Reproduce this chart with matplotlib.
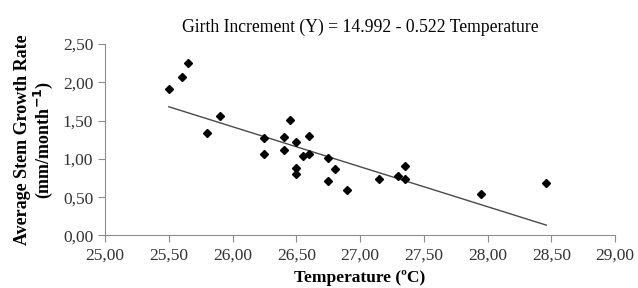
import numpy as np
import matplotlib.pyplot as plt
from matplotlib.ticker import FuncFormatter

# Data
temperature = [25.50, 25.60, 25.65, 25.80, 25.90, 26.25, 26.25, 26.40, 26.40,
               26.45, 26.50, 26.50, 26.50, 26.55, 26.60, 26.60, 26.75, 26.75,
               26.80, 26.90, 27.15, 27.30, 27.35, 27.35, 27.95, 28.46]
growth = [1.91, 2.07, 2.25, 1.34, 1.56, 1.27, 1.07, 1.28, 1.12,
          1.51, 1.22, 0.88, 0.80, 1.04, 1.30, 1.07, 1.01, 0.71,
          0.87, 0.59, 0.74, 0.78, 0.91, 0.74, 0.54, 0.68]

# Regression coefficients (from the title)
intercept = 14.992
slope = -0.522

plt.rcParams['font.family'] = ['Liberation Serif', 'DejaVu Serif']

fig = plt.figure(figsize=(6.38, 2.88), dpi=100)
ax = fig.add_axes([0.1646, 0.1823, 0.7994, 0.6649])

ax.plot(temperature, growth, 'D', color='black', markersize=4.5,
        linestyle='none', zorder=3)

# Linia trendu
x_fit = np.array([min(temperature), max(temperature)])
ax.plot(x_fit, intercept + slope * x_fit, color='#4a4a4a', lw=1.0)

ax.set_xlim(25, 29)
ax.set_ylim(0, 2.5)
ax.set_xticks(np.arange(25, 29.01, 0.5))
ax.set_yticks(np.arange(0, 2.51, 0.5))
comma = FuncFormatter(lambda v, p: f"{v:.2f}".replace('.', ','))
ax.xaxis.set_major_formatter(comma)
ax.yaxis.set_major_formatter(comma)

for s in ['top', 'right']:
    ax.spines[s].set_visible(False)
for s in ['left', 'bottom']:
    ax.spines[s].set_color('#8c8c8c')
ax.tick_params(direction='out', length=5, color='#8c8c8c', labelsize=12.5,
               labelcolor='#333333')

ax.set_title('Girth Increment (Y) = 14.992 - 0.522 Temperature',
             fontsize=12.7, pad=9)
ax.set_xlabel('Temperature (ºC)', fontsize=12.5, fontweight='bold',
              labelpad=5)
ax.set_ylabel('Average Stem Growth Rate\n(mm/month$^{\\mathbf{-1}}$)',
              fontsize=13, fontweight='bold', labelpad=6, linespacing=1.0)

plt.savefig('out.png', dpi=100)
